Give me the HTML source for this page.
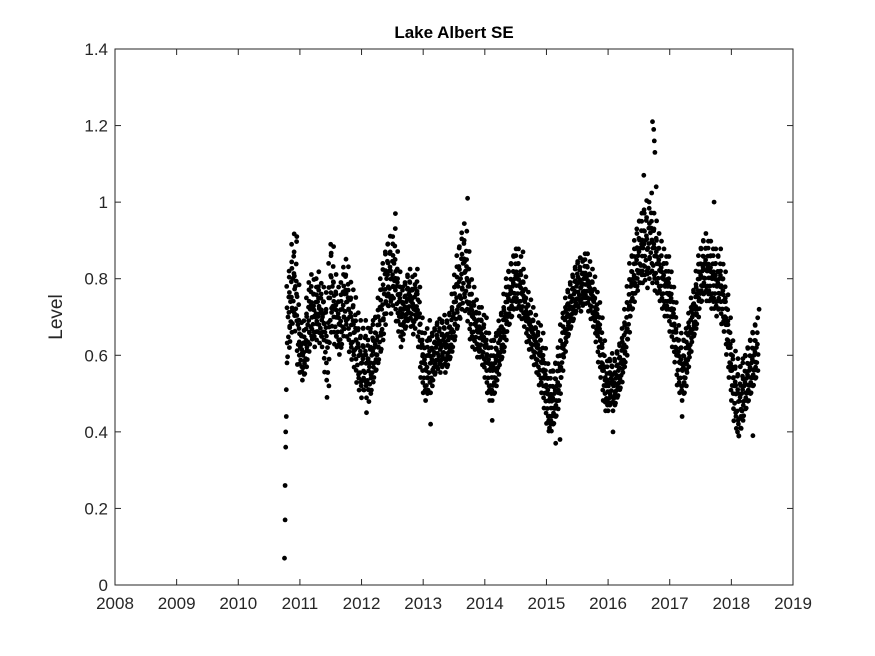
<!DOCTYPE html>
<html><head><meta charset="utf-8">
<style>
html,body{margin:0;padding:0;background:#fff;}
svg{display:block;font-family:"Liberation Sans",Arial,sans-serif;}
</style></head>
<body>
<svg id="chart" width="875" height="656" viewBox="0 0 875 656">
<rect width="875" height="656" fill="#fff"/>
<text x="454" y="38" text-anchor="middle" font-size="17" font-weight="bold" fill="#000">Lake Albert SE</text>
<text x="62" y="317" text-anchor="middle" font-size="19" fill="#262626" transform="rotate(-90 62 317)">Level</text>
<rect x="115" y="49" width="678" height="536" fill="none" stroke="#262626" stroke-width="1"/>
<g id="ticks"></g>
<g id="points"></g>
</svg>
<script>
const xTicks = [2008,2009,2010,2011,2012,2013,2014,2015,2016,2017,2018,2019];
const yTicks = [0,0.2,0.4,0.6,0.8,1,1.2,1.4];
const yTickLabels = ["0","0.2","0.4","0.6","0.8","1","1.2","1.4"];
const startYear = 2010.80;
const stepYear = 0.04;
const mids = [
0.70,0.74,0.80,0.78,0.68, 0.62,0.60,0.63,0.68,0.72, 0.72,0.70,0.74,0.71,0.70,
0.66,0.62,0.75,0.78,0.72, 0.70,0.68,0.72,0.76,0.74, 0.70,0.68,0.66,0.62,0.60,
0.58,0.60,0.58,0.57,0.60, 0.62,0.64,0.68,0.72,0.76, 0.80,0.82,0.80,0.84,0.78,
0.74,0.70,0.72,0.74,0.76, 0.74,0.72,0.76,0.70,0.62, 0.58,0.56,0.60,0.58,0.60,
0.62,0.63,0.62,0.64,0.62, 0.64,0.66,0.70,0.74,0.78, 0.80,0.84,0.82,0.78,0.72,
0.70,0.68,0.66,0.66,0.64, 0.62,0.58,0.56,0.56,0.58, 0.60,0.64,0.66,0.70,0.74,
0.76,0.78,0.80,0.80,0.78, 0.76,0.74,0.70,0.68,0.66, 0.64,0.62,0.60,0.58,0.54,
0.50,0.48,0.48,0.50,0.52, 0.56,0.62,0.66,0.70,0.72, 0.74,0.76,0.78,0.79,0.78,
0.80,0.80,0.78,0.76,0.74, 0.70,0.66,0.62,0.56,0.52, 0.52,0.54,0.52,0.54,0.56,
0.58,0.62,0.66,0.72,0.78, 0.80,0.84,0.86,0.88,0.88, 0.90,0.88,0.92,0.88,0.86,
0.84,0.82,0.80,0.78,0.78, 0.74,0.70,0.66,0.60,0.58, 0.56,0.58,0.62,0.66,0.70,
0.72,0.76,0.80,0.82,0.84, 0.82,0.82,0.80,0.80,0.78, 0.80,0.76,0.74,0.68,0.62,
0.56,0.52,0.50,0.48,0.50, 0.52,0.54,0.56,0.58,0.60,0.62];
const spreads = [
0.08,0.08,0.09,0.09,0.08, 0.05,0.05,0.06,0.07,0.07, 0.06,0.06,0.06,0.06,0.06,
0.08,0.10,0.09,0.08,0.07, 0.06,0.06,0.07,0.07,0.07, 0.07,0.07,0.07,0.07,0.07,
0.07,0.07,0.07,0.07,0.07, 0.06,0.06,0.07,0.08,0.08, 0.07,0.07,0.07,0.07,0.07,
0.06,0.06,0.05,0.05,0.05, 0.05,0.05,0.05,0.06,0.06, 0.06,0.06,0.07,0.06,0.05,
0.05,0.05,0.05,0.05,0.05, 0.05,0.05,0.06,0.07,0.08, 0.08,0.08,0.08,0.07,0.06,
0.06,0.05,0.05,0.05,0.05, 0.06,0.06,0.06,0.06,0.06, 0.05,0.05,0.05,0.06,0.06,
0.06,0.06,0.06,0.06,0.06, 0.05,0.05,0.05,0.05,0.05, 0.05,0.05,0.06,0.06,0.06,
0.06,0.06,0.06,0.06,0.06, 0.06,0.06,0.05,0.05,0.05, 0.05,0.05,0.05,0.05,0.05,
0.05,0.05,0.05,0.05,0.05, 0.05,0.06,0.06,0.06,0.05, 0.05,0.05,0.05,0.05,0.05,
0.05,0.05,0.06,0.06,0.06, 0.06,0.06,0.07,0.07,0.07, 0.08,0.08,0.08,0.07,0.07,
0.06,0.06,0.06,0.06,0.06, 0.06,0.06,0.06,0.06,0.06, 0.06,0.06,0.05,0.05,0.05,
0.05,0.06,0.06,0.06,0.06, 0.06,0.06,0.06,0.06,0.06, 0.06,0.06,0.06,0.06,0.06,
0.06,0.07,0.07,0.07,0.07, 0.06,0.06,0.06,0.06,0.06,0.06];
const outT = [2010.75,2010.76,2010.76,2010.77,2010.77,2010.78,2010.78,2010.79,2010.95,2011.50,2012.08,2012.55,2013.12,2013.72,2014.12,2014.62,2015.05,2015.15,2015.22,2016.08,2016.58,2016.72,2016.74,2016.75,2016.76,2016.78,2017.20,2017.72,2018.10,2018.12,2018.35,2018.45];
const outV = [0.07,0.17,0.26,0.36,0.40,0.44,0.51,0.58,0.91,0.89,0.45,0.97,0.42,1.01,0.43,0.87,0.41,0.37,0.38,0.40,1.07,1.21,1.19,1.16,1.13,1.04,0.44,1.00,0.40,0.39,0.39,0.72];

const X0=115, X1=793, Y0=585, Y1=49;
function xs(t){return X0+(t-2008)/(2019-2008)*(X1-X0);}
function ys(v){return Y0-(v/1.4)*(Y0-Y1);}
const NS="http://www.w3.org/2000/svg";
const tg=document.getElementById('ticks');
function mk(tag,attrs,parent){const e=document.createElementNS(NS,tag);for(const k in attrs)e.setAttribute(k,attrs[k]);parent.appendChild(e);return e;}
xTicks.forEach((t,i)=>{
  const x=xs(t);
  const l=mk('line',{x1:x,x2:x,y1:Y0,y2:Y0-6,stroke:'#262626'},tg);
  
  
  const l2=mk('line',{x1:x,x2:x,y1:Y1,y2:Y1+6,stroke:'#262626'},tg);
  
  
  const tx=mk('text',{x:x,y:Y0+24,'text-anchor':'middle','font-size':'17',fill:'#262626'},tg);
  tx.textContent=String(t);
  
  
});
yTicks.forEach((v,i)=>{
  const y=ys(v);
  const l=mk('line',{x1:X0,x2:X0+6,y1:y,y2:y,stroke:'#262626'},tg);
  
  
  const l2=mk('line',{x1:X1,x2:X1-6,y1:y,y2:y,stroke:'#262626'},tg);
  
  
  const tx=mk('text',{x:X0-7,y:y+6,'text-anchor':'end','font-size':'17',fill:'#262626'},tg);
  tx.textContent=yTickLabels[i];
  
  
});
const pg=document.getElementById('points');
const offs=[[-1.3,0],[-0.65,0.013],[0,0.007],[0.65,0.02],[1.3,0.027],[0.3,-0.01],[-1.0,0.03],[1.0,-0.015],[-0.3,0.034],[0.15,0.022],[-0.85,-0.006]];
mids.forEach((m,i)=>{
  const t=startYear+i*stepYear;
  const s=spreads[i];
  offs.forEach(o=>{
    const c=mk('circle',{cx:xs(t+o[1]).toFixed(1),cy:ys(m+o[0]*s).toFixed(1),r:2.4,fill:'#000'},pg);
    
    
  });
});
outT.forEach((t,i)=>{
  const c=mk('circle',{cx:xs(t).toFixed(1),cy:ys(outV[i]).toFixed(1),r:2.4,fill:'#000'},pg);
  
  
});
</script>
</body></html>
